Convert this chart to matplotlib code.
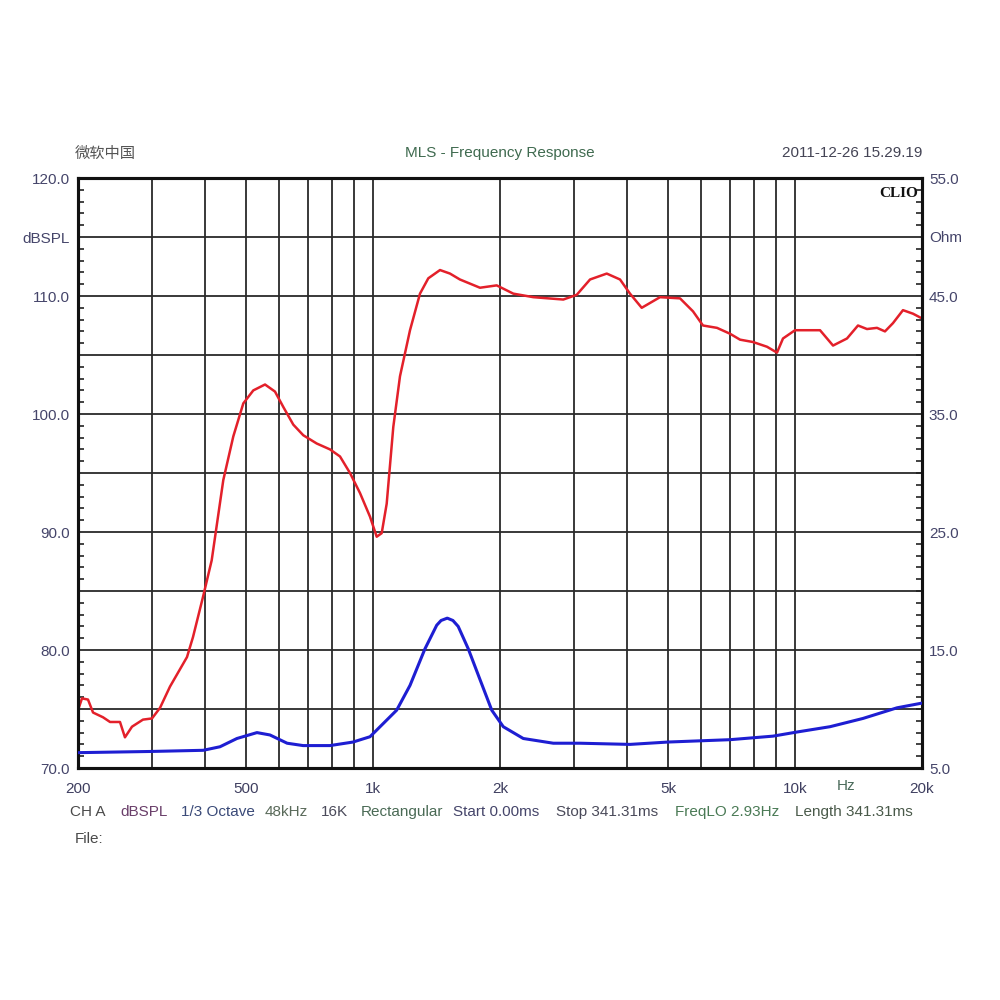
import matplotlib
matplotlib.use("Agg")
import matplotlib.pyplot as plt
import matplotlib.ticker as mticker

plt.rcParams['font.family'] = ['Liberation Sans', 'Noto Sans CJK SC', 'DejaVu Sans']

# ---- data ----
spl_freq = [200, 204.4, 211.2, 217.1, 229.2, 238.2, 251.5, 258.4, 268.5, 285.1,
            299.5, 312.9, 330.4, 362.5, 374.6, 395.6, 414.8, 441.9, 466.7, 492.9,
            520.5, 554.9, 585.9, 613.0, 647.4, 683.6, 735.7, 791.0, 835.4, 882.2,
            931.7, 983.9, 1020.6, 1048.8, 1077.8, 1117.3, 1158.9, 1224, 1292.5, 1352.5,
            1441.7, 1522.4, 1607, 1793, 1964.3, 2150.5, 2399, 2825, 3039.7, 3269,
            3580.8, 3850, 4065, 4333.6, 4788, 5341, 5733, 6054, 6535, 7017,
            7410, 7954, 8585, 9066, 9368, 10004, 11465, 12308, 13283, 14104,
            14814, 15644, 16341, 17070, 18028, 19041, 20000]
spl_db = [74.9, 75.9, 75.8, 74.7, 74.3, 73.9, 73.9, 72.6, 73.5, 74.1,
          74.2, 75.1, 76.9, 79.4, 81.1, 84.5, 87.6, 94.4, 98.1, 100.9,
          102.0, 102.5, 101.9, 100.6, 99.1, 98.2, 97.5, 97.0, 96.4, 95.0,
          93.3, 91.3, 89.6, 89.9, 92.4, 98.9, 103.2, 107.1, 110.2, 111.5,
          112.2, 111.9, 111.4, 110.7, 110.9, 110.2, 109.9, 109.7, 110.1, 111.4,
          111.9, 111.4, 110.2, 109.0, 109.9, 109.8, 108.7, 107.5, 107.3, 106.8,
          106.3, 106.1, 105.7, 105.2, 106.4, 107.1, 107.1, 105.8, 106.4, 107.5,
          107.2, 107.3, 107.0, 107.7, 108.8, 108.5, 108.1]

imp_freq = [200, 296, 396, 434, 476, 531, 570, 626, 683, 791,
            897, 984, 1138, 1224, 1328, 1416, 1450, 1500, 1547, 1592,
            1682, 1793, 1912, 2036, 2271, 2675, 3095, 4065, 5002, 7017,
            8871, 10113, 12108, 14494, 17447, 20000]
imp_ohm = [6.3, 6.4, 6.5, 6.8, 7.5, 8.0, 7.8, 7.1, 6.9, 6.9,
           7.2, 7.65, 9.9, 12.0, 15.1, 17.1, 17.5, 17.7, 17.5, 17.0,
           15.1, 12.5, 9.9, 8.5, 7.5, 7.1, 7.1, 7.0, 7.2, 7.4,
           7.7, 8.05, 8.5, 9.2, 10.1, 10.5]

x_tick_freq = [200, 500, 1000, 2000, 5000, 10000, 20000]
x_tick_lbl = ['200', '500', '1k', '2k', '5k', '10k', '20k']
x_grid_freq = [300, 400, 600, 700, 800, 900, 3000, 4000, 6000, 7000, 8000, 9000]
left_ticks = [70, 75, 80, 85, 90, 95, 100, 105, 110, 115, 120]
left_lbl = ['70.0', '', '80.0', '', '90.0', '', '100.0', '', '110.0', 'dBSPL', '120.0']
right_ticks = [5, 15, 25, 35, 45, 50, 55]
right_lbl = ['5.0', '15.0', '25.0', '35.0', '45.0', 'Ohm', '55.0']

info_items = [('CH A', '#4a4a4a'), ('dBSPL', '#6a3f6a'), ('1/3 Octave', '#3a4a78'),
              ('48kHz', '#5a6a5a'), ('16K', '#4a4a5a'), ('Rectangular', '#4a6a55'),
              ('Start 0.00ms', '#45456a'), ('Stop 341.31ms', '#4a4a5a'),
              ('FreqLO 2.93Hz', '#4a7a55'), ('Length 341.31ms', '#4a5a4a')]
info_x = [70, 120, 181, 265, 321, 361, 453, 556, 675, 795]

# ---- figure ----
fig = plt.figure(figsize=(10, 10), dpi=100)
fig.patch.set_facecolor('white')
ax = fig.add_axes([0.078, 0.232, 0.844, 0.590])
ax.set_xscale('log')
ax.set_xlim(200, 20000)
ax.set_ylim(70, 120)

grid_kw = dict(color='#2a2a2a', lw=1.3, zorder=1)
for f in x_grid_freq + x_tick_freq[1:-1]:
    ax.axvline(f, **grid_kw)
for v in left_ticks[1:-1]:
    ax.axhline(v, **grid_kw)

ax.plot(spl_freq, spl_db, color='#e3202a', lw=1.8, zorder=3,
        solid_joinstyle='round', solid_capstyle='round')

ax.set_xticks(x_tick_freq)
ax.set_xticklabels(x_tick_lbl)
ax.xaxis.set_minor_locator(mticker.NullLocator())
ax.tick_params(axis='x', length=0, pad=10, labelsize=11, labelcolor='#3f3f60')
ax.set_yticks(left_ticks)
ax.set_yticklabels(left_lbl)
ax.yaxis.set_minor_locator(mticker.MultipleLocator(1))
ax.tick_params(axis='y', which='major', length=0, pad=6, labelsize=11, labelcolor='#45456a')
ax.tick_params(axis='y', which='minor', direction='in', length=4, width=1.2, color='#222222')
for s in ax.spines.values():
    s.set_linewidth(2.2)
    s.set_color('#111111')

ax2 = ax.twinx()
ax2.set_ylim(5, 55)
ax2.plot(imp_freq, imp_ohm, color='#1e1ed2', lw=2.2, zorder=3,
         solid_joinstyle='round', solid_capstyle='round')
ax2.set_yticks(right_ticks)
ax2.set_yticklabels(right_lbl)
ax2.yaxis.set_minor_locator(mticker.MultipleLocator(1))
ax2.tick_params(axis='y', which='major', length=0, pad=5, labelsize=11, labelcolor='#45456a')
ax2.tick_params(axis='y', which='minor', direction='in', length=4, width=1.2, color='#222222')
for s in ax2.spines.values():
    s.set_linewidth(2.2)
    s.set_color('#111111')

ax.text(0.995, 0.985, 'CLIO', transform=ax.transAxes, ha='right', va='top',
        fontsize=11, fontweight='bold', family='Liberation Serif', color='#111111')

# ---- header / footer texts ----
fig.text(0.075, 1 - 0.153, '微软中国', ha='left', va='center', fontsize=11,
         color='#555555', family=['Noto Sans CJK SC', 'DejaVu Sans'])
fig.text(0.500, 1 - 0.153, 'MLS - Frequency Response', ha='center', va='center',
         fontsize=11, color='#3f6a4f')
fig.text(0.922, 1 - 0.153, '2011-12-26 15.29.19', ha='right', va='center',
         fontsize=11, color='#444455')
fig.text(0.846, 1 - 0.786, 'Hz', ha='center', va='center', fontsize=11, color='#4a6a5a')

for (txt, col), xp in zip(info_items, info_x):
    fig.text(xp / 1000, 1 - 0.812, txt, ha='left', va='center', fontsize=11, color=col)
fig.text(0.075, 1 - 0.839, 'File:', ha='left', va='center', fontsize=11, color='#4a4a4a')

fig.savefig('out.png', dpi=100, facecolor='white')
